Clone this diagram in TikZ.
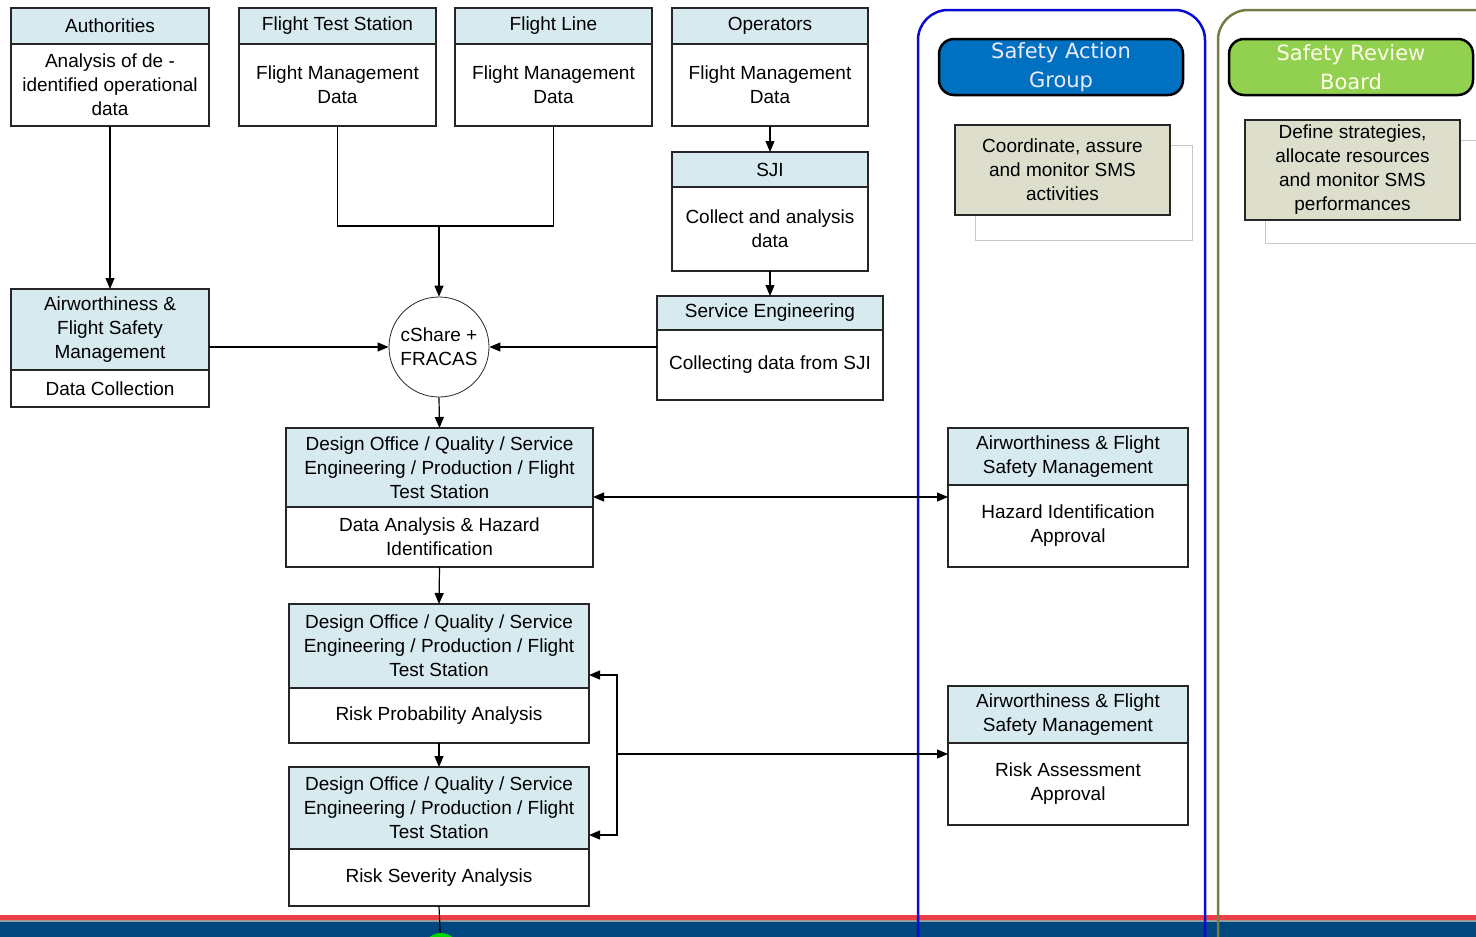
\documentclass[tikz,border=0pt]{standalone}
\usepackage{fontspec}
\setmainfont{Liberation Sans}
\newfontfamily\pillfont{DejaVu Sans}
\usepackage{tikz}
\usetikzlibrary{positioning,calc,arrows.meta}
\definecolor{HeadBlue}{RGB}{214,234,240}
\definecolor{NoteGrey}{RGB}{222,222,204}
\definecolor{SAGBlue}{RGB}{0,112,192}
\definecolor{SRBGreen}{RGB}{146,208,80}
\definecolor{LaneBlue}{RGB}{10,10,210}
\definecolor{LaneOlive}{RGB}{118,123,70}
\definecolor{BandRed}{RGB}{235,64,70}
\definecolor{BandBlue}{RGB}{0,70,127}
\tikzset{
    headbox/.style={draw=black!85, line width=1.8pt, fill=HeadBlue, inner sep=0pt, outer sep=0pt, align=center, font=\fontsize{19}{24}\selectfont},
    bodybox/.style={headbox, fill=white},
    notebox/.style={headbox, fill=NoteGrey},
    shadowbox/.style={draw=black!22, line width=1pt, fill=white, inner sep=0pt},
    hubnode/.style={circle, draw=black!85, line width=0.8pt, fill=white, minimum size=100pt, inner sep=0pt, align=center, font=\fontsize{19}{24}\selectfont},
    pill/.style={draw=black, line width=2.5pt, rounded corners=15pt, minimum width=244pt, minimum height=56pt, inner sep=0pt, align=center, font=\pillfont\fontsize{21}{29}\selectfont},
    lane/.style={line width=2.5pt, rounded corners=30pt},
    arr/.style={-{Triangle[length=11pt,width=9pt]}, line width=1.2pt},
    arrboth/.style={{Triangle[length=11pt,width=9pt]}-{Triangle[length=11pt,width=9pt]}, line width=1.2pt}
}
\begin{document}
\begin{tikzpicture}[x=1pt, y=-1pt]
    \useasboundingbox (0,0) rectangle (1476,937);
    \clip (0,0) rectangle (1476,937);

    % 1. BAND AND LANES
    \fill[BandRed] (0,915) rectangle (1476,920);
    \fill[black!40] (0,920) rectangle (1476,922);
    \fill[BandBlue] (0,922) rectangle (1476,937);
    \draw[lane, LaneBlue] (918,960) -- (918,10) -- (1205,10) -- (1205,960);
    \draw[lane, LaneOlive] (1218,960) -- (1218,10) -- (1530,10) -- (1530,960);

    \node[pill, fill=SAGBlue, text=blue!8] (sag) at (1061,67) {Safety Action\\Group};
    \node[pill, fill=SRBGreen, text=yellow!8] (srb) at (1351,67) {Safety Review\\Board};

    \node[shadowbox, minimum width=217pt, minimum height=95pt] (sagS) at (1083.5,192.5) {};
    \node[notebox, minimum width=215pt, minimum height=90pt] (sagN) at (1062.5,170) {Coordinate, assure\\and monitor SMS\\activities};
    \node[shadowbox, minimum width=215pt, minimum height=103pt] (srbS) at (1372.5,191.5) {};
    \node[notebox, minimum width=215pt, minimum height=100pt] (srbN) at (1352.5,170) {Define strategies,\\allocate resources\\and monitor SMS\\performances};

    % 2. SOURCE BOXES
    \node[headbox, minimum width=198pt, minimum height=36pt] (auth) at (110,26) {Authorities};
    \node[bodybox, minimum width=198pt, minimum height=82pt, below=0pt of auth] (authB) {Analysis of de -\\identified operational\\data};
    \node[headbox, minimum width=197pt, minimum height=36pt] (fts) at (337.5,26) {Flight Test Station};
    \node[bodybox, minimum width=197pt, minimum height=82pt, below=0pt of fts] (ftsB) {Flight Management\\Data};
    \node[headbox, minimum width=197pt, minimum height=36pt] (fl) at (553.5,26) {Flight Line};
    \node[bodybox, minimum width=197pt, minimum height=82pt, below=0pt of fl] (flB) {Flight Management\\Data};
    \node[headbox, minimum width=196pt, minimum height=36pt] (ops) at (770,26) {Operators};
    \node[bodybox, minimum width=196pt, minimum height=82pt, below=0pt of ops] (opsB) {Flight Management\\Data};
    \node[headbox, minimum width=196pt, minimum height=35pt] (sji) at (770,169.5) {SJI};
    \node[bodybox, minimum width=196pt, minimum height=84pt, below=0pt of sji] (sjiB) {Collect and analysis\\data};
    \node[headbox, minimum width=226pt, minimum height=34pt] (se) at (770,313) {Service Engineering};
    \node[bodybox, minimum width=226pt, minimum height=70pt, below=0pt of se] (seB) {Collecting data from SJI};
    \node[headbox, minimum width=198pt, minimum height=81pt] (afs) at (110,329.5) {Airworthiness \&\\Flight Safety\\Management};
    \node[bodybox, minimum width=198pt, minimum height=37pt, below=0pt of afs] (afsB) {Data Collection};

    \node[hubnode] (hub) at (439,347) {cShare +\\FRACAS};

    % 3. ANALYSIS CHAIN
    \node[headbox, minimum width=307pt, minimum height=79pt] (do1) at (439.5,467.5) {Design Office / Quality / Service\\Engineering / Production / Flight\\Test Station};
    \node[bodybox, minimum width=307pt, minimum height=60pt, below=0pt of do1] (do1B) {Data Analysis \& Hazard\\Identification};
    \node[headbox, minimum width=300pt, minimum height=84pt] (do2) at (439,646) {Design Office / Quality / Service\\Engineering / Production / Flight\\Test Station};
    \node[bodybox, minimum width=300pt, minimum height=55pt, below=0pt of do2] (do2B) {Risk Probability Analysis};
    \node[headbox, minimum width=300pt, minimum height=82pt] (do3) at (439,808) {Design Office / Quality / Service\\Engineering / Production / Flight\\Test Station};
    \node[bodybox, minimum width=300pt, minimum height=57pt, below=0pt of do3] (do3B) {Risk Severity Analysis};
    \node[circle, fill=green!85!black, minimum size=36pt, inner sep=0pt] (nxt) at (441,951) {};

    \node[headbox, minimum width=240pt, minimum height=57pt] (haz) at (1068,456.5) {Airworthiness \& Flight\\Safety Management};
    \node[bodybox, minimum width=240pt, minimum height=82pt, below=0pt of haz] (hazB) {Hazard Identification\\Approval};
    \node[headbox, minimum width=240pt, minimum height=57pt] (risk) at (1068,714.5) {Airworthiness \& Flight\\Safety Management};
    \node[bodybox, minimum width=240pt, minimum height=82pt, below=0pt of risk] (riskB) {Risk Assessment\\Approval};

    % 4. CONNECTORS
    \coordinate (jn) at (439,226);
    \coordinate (brk) at (617,754);
    \draw[arr] (authB.south) -- (afs.north);
    \draw[line width=1.2pt] (ftsB.south) |- (jn) -| (flB.south);
    \draw[arr] (jn) -- (hub.north);
    \draw[arr] (opsB.south) -- (sji.north);
    \draw[arr] (sjiB.south) -- (se.north);
    \draw[arr] (afs.east |- hub) -- (hub.west);
    \draw[arr] (seB.west |- hub) -- (hub.east);
    \draw[arr] (hub.south) -- (do1.north);
    \draw[arr] (do1B.south) -- (do2.north);
    \draw[arr] (do2B.south) -- (do3.north);
    \draw[line width=1.2pt] (do3B.south) -- (nxt);
    \draw[arrboth] ([yshift=10pt]do1.south east) coordinate (q) -- (q -| hazB.west);
    \draw[arr] (brk) |- ([yshift=13pt]do2.south east);
    \draw[arr] (brk) |- ([yshift=14pt]do3.south east);
    \draw[arr] (brk) -- (riskB.west |- brk);
\end{tikzpicture}
\end{document}
